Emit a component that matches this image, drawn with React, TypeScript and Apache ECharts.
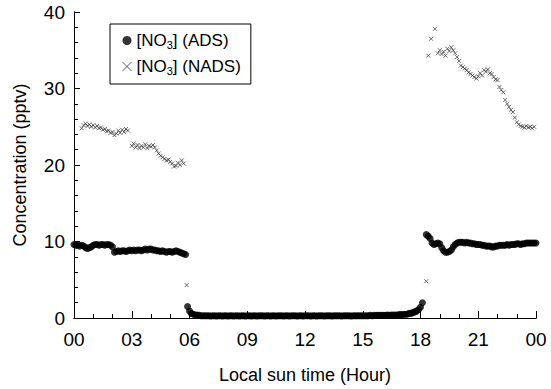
import React, { useEffect, useRef } from "react";
import * as echarts from "echarts";

// [hour, concentration] readings — ADS (filled circles)
const adsNight1: number[][] = [
  [0.0, 9.6], [0.1, 9.5], [0.2, 9.5], [0.3, 9.4], [0.4, 9.5], [0.5, 9.4],
  [0.6, 9.2], [0.7, 9.1], [0.8, 9.2], [0.9, 9.3], [1.0, 9.5],
  [1.1, 9.6], [1.2, 9.6], [1.3, 9.5], [1.4, 9.6], [1.5, 9.6], [1.6, 9.5], [1.7, 9.6], [1.8, 9.6], [1.9, 9.5], [2.0, 9.3],
  [2.1, 8.6], [2.2, 8.7], [2.3, 8.8], [2.4, 8.7], [2.5, 8.8], [2.6, 8.8], [2.7, 8.7], [2.8, 8.8], [2.9, 8.9], [3.0, 8.8],
  [3.1, 8.9], [3.2, 8.8], [3.3, 8.9], [3.4, 8.9], [3.5, 8.8], [3.6, 8.9], [3.7, 9.0], [3.8, 8.9], [3.9, 9.0], [4.0, 9.0],
  [4.1, 8.9], [4.2, 8.9], [4.3, 8.8], [4.4, 8.8], [4.5, 8.7], [4.6, 8.8], [4.7, 8.7], [4.8, 8.6], [4.9, 8.7], [5.0, 8.7],
  [5.1, 8.6], [5.2, 8.7], [5.3, 8.8], [5.4, 8.7], [5.5, 8.6], [5.6, 8.5], [5.7, 8.4], [5.8, 8.3],
];
// Daytime ADS readings taken every 0.1 h from 5.9 h to 18.1 h
const adsDayStartHour = 5.9;
const adsDayStepHour = 0.1;
const adsDayValues: number[] = [
  1.5, 0.9, 0.6, 0.5, 0.4, 0.4, 0.35, 0.3, 0.3, 0.3, 0.3, // 5.9–6.9
  0.3, 0.25, 0.3, 0.3, 0.25, 0.3, 0.3, 0.25, 0.3, 0.3, // 7.0–7.9
  0.25, 0.3, 0.3, 0.25, 0.3, 0.3, 0.25, 0.3, 0.3, 0.25, // 8.0–8.9
  0.3, 0.3, 0.25, 0.3, 0.3, 0.25, 0.3, 0.3, 0.3, 0.25, // 9.0–9.9
  0.3, 0.3, 0.25, 0.3, 0.3, 0.25, 0.3, 0.3, 0.3, 0.25, // 10.0–10.9
  0.3, 0.3, 0.25, 0.3, 0.3, 0.3, 0.25, 0.3, 0.3, 0.25, // 11.0–11.9
  0.3, 0.3, 0.3, 0.25, 0.3, 0.3, 0.25, 0.3, 0.3, 0.3, // 12.0–12.9
  0.25, 0.3, 0.3, 0.3, 0.25, 0.3, 0.3, 0.3, 0.3, 0.25, // 13.0–13.9
  0.3, 0.3, 0.3, 0.3, 0.25, 0.3, 0.3, 0.3, 0.3, 0.3, // 14.0–14.9
  0.3, 0.3, 0.3, 0.3, 0.35, 0.3, 0.35, 0.35, 0.35, 0.35, // 15.0–15.9
  0.35, 0.35, 0.35, 0.4, 0.35, 0.4, 0.4, 0.4, 0.4, 0.45, // 16.0–16.9
  0.45, 0.45, 0.5, 0.5, 0.6, 0.6, 0.7, 0.8, 0.9, 1.1, // 17.0–17.9
  1.4, 2.0, // 18.0–18.1
];
const adsNight2: number[][] = [
  [18.3, 10.9], [18.4, 10.7], [18.5, 10.4], [18.6, 9.8], [18.7, 9.6], [18.8, 9.7], [18.9, 9.8], [19.0, 9.7],
  [19.1, 9.2], [19.2, 8.8], [19.3, 8.6], [19.4, 8.6], [19.5, 8.7], [19.6, 8.9], [19.7, 9.3], [19.8, 9.6], [19.9, 9.8], [20.0, 9.9],
  [20.1, 9.9], [20.2, 9.9], [20.3, 9.8], [20.4, 9.9], [20.5, 9.8], [20.6, 9.8], [20.7, 9.7], [20.8, 9.7], [20.9, 9.6], [21.0, 9.6],
  [21.1, 9.6], [21.2, 9.5], [21.3, 9.5], [21.4, 9.4], [21.5, 9.4], [21.6, 9.4], [21.7, 9.3], [21.8, 9.3], [21.9, 9.4], [22.0, 9.4],
  [22.1, 9.5], [22.2, 9.5], [22.3, 9.5], [22.4, 9.5], [22.5, 9.6], [22.6, 9.5], [22.7, 9.6], [22.8, 9.6], [22.9, 9.6], [23.0, 9.7],
  [23.1, 9.7], [23.2, 9.6], [23.3, 9.7], [23.4, 9.7], [23.5, 9.8], [23.6, 9.8], [23.7, 9.8], [23.8, 9.8], [23.9, 9.8], [24.0, 9.8],
];

// [hour, concentration] readings — NADS (small crosses)
const nadsNight1: number[][] = [
  [0.4, 24.8], [0.5, 25.2], [0.6, 25.4], [0.7, 25.1], [0.8, 25.3], [0.9, 25.0], [1.0, 25.2], [1.1, 24.9], [1.2, 25.1],
  [1.3, 24.8], [1.4, 24.9], [1.5, 24.6], [1.6, 24.7], [1.7, 24.4], [1.8, 24.5], [1.9, 24.2], [2.0, 24.3], [2.1, 23.9],
  [2.2, 24.1], [2.3, 24.5], [2.4, 24.2], [2.5, 24.6], [2.6, 24.3], [2.7, 24.7], [2.8, 24.5],
  [3.0, 22.5], [3.1, 22.8], [3.2, 22.3], [3.3, 22.6], [3.4, 22.2], [3.5, 22.5], [3.6, 22.3], [3.7, 22.7], [3.8, 22.2],
  [3.9, 22.5], [4.0, 22.4], [4.1, 22.6], [4.2, 22.3],
  [4.3, 21.9], [4.4, 21.5], [4.5, 21.2], [4.6, 21.0], [4.7, 20.8], [4.8, 20.6], [4.9, 20.7], [5.0, 20.4], [5.1, 20.2],
  [5.2, 19.8], [5.3, 19.9], [5.4, 20.3], [5.5, 20.0], [5.6, 20.6], [5.7, 20.2],
  [5.85, 4.3],
];
const nadsNight2: number[][] = [
  [18.3, 4.8], [18.4, 34.3], [18.55, 36.5], [18.75, 37.8], [18.9, 34.6], [19.0, 35.0], [19.1, 34.5], [19.2, 34.8],
  [19.3, 34.3], [19.4, 35.2], [19.5, 34.9], [19.6, 35.4], [19.7, 35.0], [19.8, 34.6], [19.9, 34.1], [20.0, 33.6],
  [20.1, 33.0], [20.2, 32.8], [20.3, 32.6], [20.4, 32.4], [20.5, 32.1], [20.6, 31.9], [20.7, 31.7], [20.8, 31.5],
  [20.9, 31.3], [21.0, 31.6], [21.1, 32.0], [21.2, 31.7], [21.3, 32.4], [21.4, 32.2], [21.5, 32.5], [21.6, 32.0],
  [21.7, 31.9], [21.8, 31.5], [21.9, 31.2], [22.0, 31.1], [22.1, 30.2], [22.2, 29.8], [22.3, 29.5], [22.4, 28.5],
  [22.5, 28.0], [22.6, 27.6], [22.7, 27.2], [22.8, 26.9], [22.9, 26.2], [23.0, 25.6], [23.1, 25.3], [23.2, 25.1],
  [23.3, 25.0], [23.4, 24.9], [23.5, 25.1], [23.6, 24.9], [23.7, 25.0], [23.8, 24.8], [23.9, 25.0],
];

const seriesNames = ["{n|[NO}{s|3}{n|] (ADS)}", "{n|[NO}{s|3}{n|] (NADS)}"];
const legendLabels = ["ADS", "NADS"];
const xTickHours = [0, 3, 6, 9, 12, 15, 18, 21, 24];
const xAxisTitle = "Local sun time (Hour)";
const yAxisTitle = "Concentration (pptv)";

const FONT = "'Liberation Sans', Arial, Helvetica, sans-serif";
const CROSS = "path://M0,0L10,10M10,0L0,10";

export default function App() {
  const ref = useRef<HTMLDivElement>(null);
  useEffect(() => {
    if (!ref.current) return;
    const chart = echarts.init(ref.current, undefined, { renderer: "svg" });
    const adsDay = adsDayValues.map((v, i) => [
      Math.round((adsDayStartHour + i * adsDayStepHour) * 10) / 10,
      v,
    ]);
    const ads = [...adsNight1, ...adsDay, ...adsNight2];
    const nads = [...nadsNight1, ...nadsNight2];
    chart.setOption({
      animation: false,
      backgroundColor: "#fff",
      textStyle: { fontFamily: FONT, color: "#000" },
      grid: { left: 74, right: 15, top: 12, bottom: 71, containLabel: false },
      legend: {
        orient: "vertical",
        left: 110,
        top: 24,
        padding: [8, 10, 8, 10],
        itemGap: 8,
        itemWidth: 9,
        itemHeight: 9,
        itemTextGap: 9,
        borderColor: "#000",
        borderWidth: 1,
        data: [
          { name: legendLabels[0], icon: "circle", itemStyle: { color: "#000" } },
          { name: legendLabels[1], icon: CROSS, itemStyle: { color: "none", borderColor: "#333", borderWidth: 1 } },
        ],
        formatter: (name: string) => seriesNames[legendLabels.indexOf(name)],
        textStyle: {
          fontFamily: FONT,
          color: "#000",
          rich: {
            n: { fontSize: 17, fontFamily: FONT, color: "#000" },
            s: { fontSize: 11, fontFamily: FONT, color: "#000", padding: [8, 0, 0, 0] },
          },
        },
      },
      xAxis: [
        {
          type: "value",
          min: 0,
          max: 24,
          interval: 3,
          name: xAxisTitle,
          nameLocation: "middle",
          nameGap: 48,
          nameTextStyle: { fontSize: 18, fontFamily: FONT, color: "#000" },
          axisLine: { show: true, lineStyle: { color: "#000", width: 1 } },
          axisTick: { show: true, inside: true, length: 7, lineStyle: { color: "#000" } },
          minorTick: { show: true, splitNumber: 3, length: 4, lineStyle: { color: "#000" } },
          splitLine: { show: false },
          axisLabel: {
            fontSize: 19,
            fontFamily: FONT,
            color: "#000",
            margin: 12,
            formatter: (v: number) => (xTickHours.indexOf(v) >= 0 ? String(v % 24).padStart(2, "0") : ""),
          },
        },
        {
          type: "value",
          min: 0,
          max: 24,
          position: "top",
          axisLine: { show: true, lineStyle: { color: "#000", width: 1 } },
          axisTick: { show: false },
          axisLabel: { show: false },
          splitLine: { show: false },
        },
      ],
      yAxis: [
        {
          type: "value",
          min: 0,
          max: 40,
          interval: 10,
          name: yAxisTitle,
          nameLocation: "middle",
          nameGap: 45,
          nameTextStyle: { fontSize: 18, fontFamily: FONT, color: "#000" },
          axisLine: { show: true, lineStyle: { color: "#000", width: 1 } },
          axisTick: { show: true, inside: true, length: 6, lineStyle: { color: "#000" } },
          minorTick: { show: true, splitNumber: 5, length: 4, lineStyle: { color: "#000" } },
          splitLine: { show: false },
          axisLabel: { fontSize: 19, fontFamily: FONT, color: "#000", margin: 9 },
        },
        {
          type: "value",
          min: 0,
          max: 40,
          position: "right",
          axisLine: { show: true, lineStyle: { color: "#000", width: 1 } },
          axisTick: { show: false },
          axisLabel: { show: false },
          splitLine: { show: false },
        },
      ],
      series: [
        {
          name: legendLabels[0],
          type: "scatter",
          data: ads,
          symbol: "circle",
          symbolSize: 7,
          itemStyle: { color: "#000" },
          xAxisIndex: 0,
          yAxisIndex: 0,
        },
        {
          name: legendLabels[1],
          type: "scatter",
          data: nads,
          symbol: CROSS,
          symbolSize: 4,
          itemStyle: { color: "none", borderColor: "#333", borderWidth: 0.9 },
          xAxisIndex: 0,
          yAxisIndex: 0,
        },
      ],
    });
    return () => chart.dispose();
  }, []);
  return (
    <div
      ref={ref}
      style={{ position: "fixed", left: 0, top: 0, width: 551, height: 389, background: "#fff" }}
    />
  );
}
